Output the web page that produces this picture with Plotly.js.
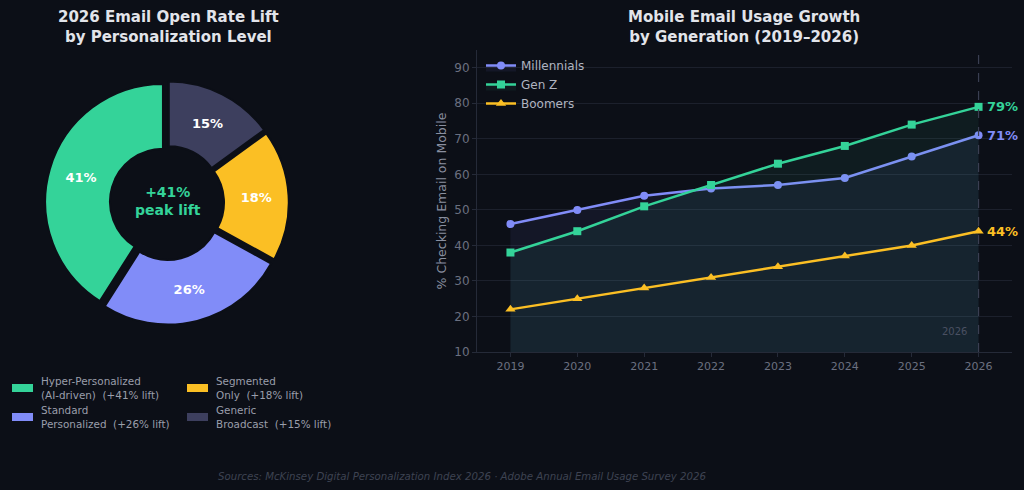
<!DOCTYPE html>
<html><head><meta charset="utf-8">
<script src="https://cdn.plot.ly/plotly-3.0.1.min.js"></script>
<style>html,body{margin:0;padding:0;background:#0c0f17;}#chart{width:1024px;height:490px;}</style>
</head><body><div id="chart"></div>
<script>
// Pie data
const pieLabels = ["Hyper-Personalized", "Standard Personalized", "Segmented Only", "Generic Broadcast"];
const pieLegendText = ["Hyper-Personalized<br>(AI-driven)  (+41% lift)", "Standard<br>Personalized  (+26% lift)", "Segmented<br>Only  (+18% lift)", "Generic<br>Broadcast  (+15% lift)"];
const pieValues = [41, 26, 18, 15];
const pieColors = ["#34d399", "#818cf8", "#fbbf24", "#3d3f5e"];

// Line data
const years = [2019, 2020, 2021, 2022, 2023, 2024, 2025, 2026];
const millennials = [46, 50, 54, 56, 57, 59, 65, 71];
const genZ = [38, 44, 51, 57, 63, 68, 74, 79];
const boomers = [22, 25, 28, 31, 34, 37, 40, 44];
const seriesNames = ["Millennials", "Gen Z", "Boomers"];
const seriesColors = ["#818cf8", "#34d399", "#fbbf24"];
const seriesSymbols = ["circle", "square", "triangle-up"];
const seriesFill = ["rgba(129,140,248,0.07)", "rgba(52,211,153,0.07)", null];
const seriesData = [millennials, genZ, boomers];

const BG = "#0c0f17";
const FONT = "DejaVu Sans";

const pieTotal = pieValues.reduce((a, b) => a + b, 0);
const traces = [];
traces.push({
  type: "pie", labels: pieLabels, values: pieValues, sort: false, direction: "counterclockwise",
  rotation: -pieValues[0] / pieTotal * 360,
  hole: 0.45, pull: [0.035, 0.035, 0.035, 0.035],
  marker: {colors: pieColors, line: {color: BG, width: 2}},
  texttemplate: "%{value}%", textposition: "inside", insidetextorientation: "horizontal",
  textfont: {family: FONT, size: 13, color: "#ffffff", weight: "bold"},
  domain: {x: [0.044, 0.282], y: [0.337, 0.835]}, showlegend: false, hoverinfo: "label+value"
});

seriesNames.forEach((n, i) => {
  const t = {
    type: "scatter", mode: "lines+markers", name: n, x: years, y: seriesData[i],
    line: {color: seriesColors[i], width: 2.5},
    marker: {symbol: seriesSymbols[i], size: i === 2 ? 9 : 8, color: seriesColors[i]},
    xaxis: "x", yaxis: "y"
  };
  if (seriesFill[i]) { t.fill = "tozeroy"; t.fillcolor = seriesFill[i]; }
  traces.push(t);
});

const annotations = [
  {text: "<b>2026 Email Open Rate Lift<br>by Personalization Level</b>", xref: "paper", yref: "paper", x: 168/1024, y: 1 - 6/490, xanchor: "center", yanchor: "top", showarrow: false, font: {family: FONT, size: 15, color: "#e2e4ea"}},
  {text: "<b>Mobile Email Usage Growth<br>by Generation (2019–2026)</b>", xref: "paper", yref: "paper", x: 744/1024, y: 1 - 6/490, xanchor: "center", yanchor: "top", showarrow: false, font: {family: FONT, size: 15, color: "#e2e4ea"}},
  {text: "<b>+41%<br>peak lift</b>", xref: "paper", yref: "paper", x: 168/1024, y: 1 - 201/490, xanchor: "center", yanchor: "middle", showarrow: false, font: {family: FONT, size: 14, color: "#34d399"}},
  {text: "<i>Sources: McKinsey Digital Personalization Index 2026 · Adobe Annual Email Usage Survey 2026</i>", xref: "paper", yref: "paper", x: 462/1024, y: 1 - 476/490, xanchor: "center", yanchor: "middle", showarrow: false, font: {family: FONT, size: 10.2, color: "#3e4352"}},
  {text: "2026", xref: "x", yref: "paper", x: 2026, y: 1 - 331/490, xanchor: "right", yanchor: "middle", xshift: -10, showarrow: false, font: {family: FONT, size: 10, color: "#4a5062"}}
];
seriesNames.forEach((n, i) => {
  const arr = seriesData[i];
  annotations.push({text: "<b>" + arr[arr.length - 1] + "%</b>", xref: "x", yref: "y", x: years[years.length - 1], y: arr[arr.length - 1], xanchor: "left", yanchor: "middle", xshift: 6, showarrow: false, font: {family: FONT, size: 13, color: seriesColors[i]}});
});

// Custom two-column pie legend
const shapes = [];
const legPos = [[12, 388], [12, 417], [187, 388], [187, 417]];
pieLabels.forEach((l, i) => {
  const [lx, ly] = legPos[i];
  shapes.push({type: "rect", xref: "paper", yref: "paper", x0: lx/1024, x1: (lx+21)/1024, y0: 1 - (ly+4)/490, y1: 1 - (ly-4)/490, fillcolor: pieColors[i], line: {width: 0}});
  annotations.push({text: pieLegendText[i], xref: "paper", yref: "paper", x: (lx+27)/1024, y: 1 - ly/490, xanchor: "left", yanchor: "middle", align: "left", showarrow: false, font: {family: FONT, size: 10.4, color: "#9a9eab"}});
});
shapes.push({type: "line", xref: "x", yref: "paper", x0: 2026, x1: 2026, y0: 1 - 352/490, y1: 1 - 50/490, line: {color: "#3a3f52", width: 1.2, dash: "dash"}});

const layout = {
  width: 1024, height: 490, paper_bgcolor: BG, plot_bgcolor: BG,
  margin: {l: 0, r: 0, t: 0, b: 0},
  font: {family: FONT, color: "#6b7080"},
  xaxis: {domain: [477/1024, 1012/1024], range: [2018.5, 2026.5], tickvals: years, ticktext: years.map(String), showgrid: false, zeroline: false,
    showline: true, linecolor: "#252a38", linewidth: 1, ticks: "outside", ticklen: 4, tickcolor: "#252a38", tickfont: {size: 11, color: "#6b7080"}, anchor: "y"},
  yaxis: {domain: [1 - 352/490, 1 - 50/490], range: [10, 95], dtick: 10, tick0: 10, showgrid: true, gridcolor: "#1c202c", gridwidth: 1, zeroline: false,
    showline: true, linecolor: "#252a38", ticks: "outside", ticklen: 4, tickcolor: "#252a38", tickfont: {size: 12, color: "#6b7080"},
    title: {text: "% Checking Email on Mobile", font: {size: 12.5, color: "#8a8fa0"}, standoff: 4}, anchor: "x"},
  legend: {x: 481/1024, y: 1 - 51/490, xanchor: "left", yanchor: "top", bgcolor: "rgba(0,0,0,0)", font: {size: 12, color: "#b0b4c0"}, itemwidth: 30, tracegroupgap: 0},
  annotations: annotations, shapes: shapes, showlegend: true
};

Plotly.newPlot("chart", traces, layout, {displayModeBar: false, staticPlot: true});
</script></body></html>
